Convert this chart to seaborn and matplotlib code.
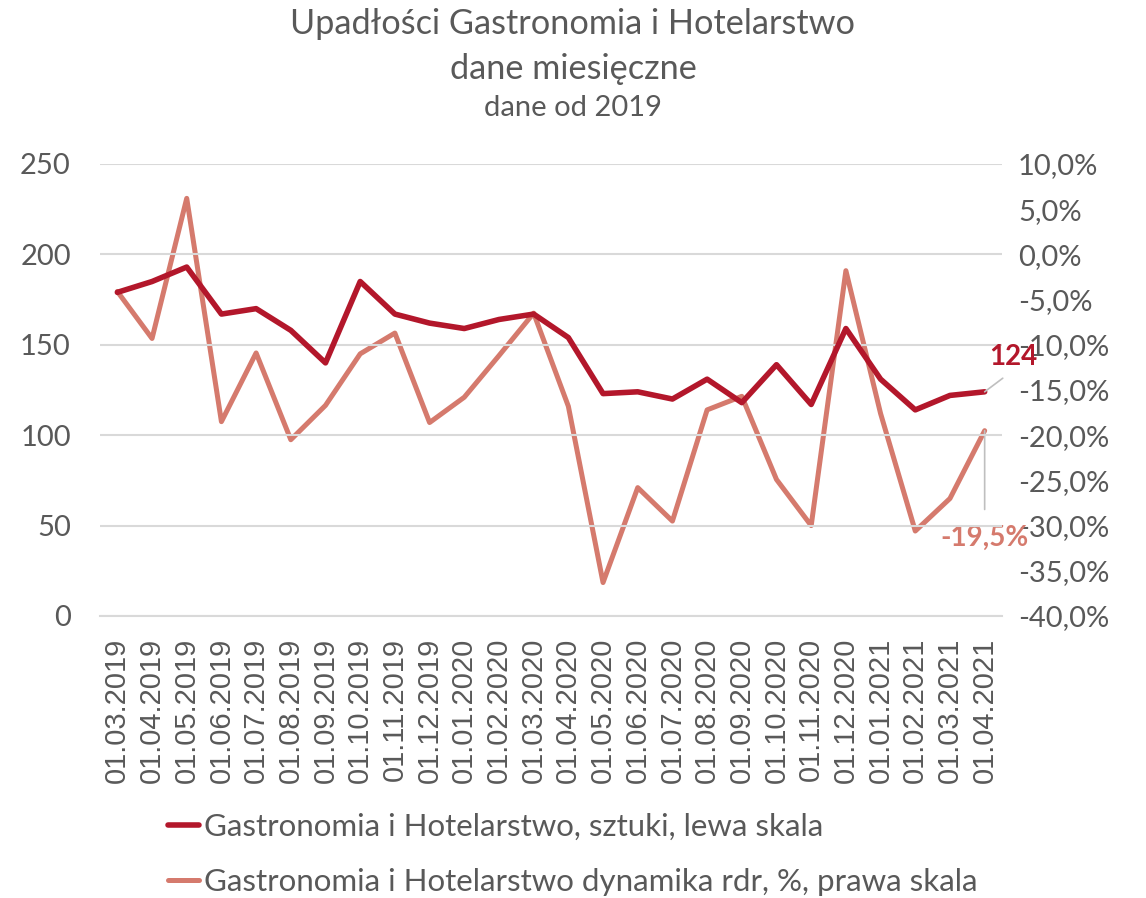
import numpy as np
import pandas as pd
import matplotlib
matplotlib.use("Agg")
import matplotlib.pyplot as plt
import seaborn as sns
from matplotlib.ticker import FuncFormatter

# Monthly data
months = ["01.03.2019", "01.04.2019", "01.05.2019", "01.06.2019", "01.07.2019",
          "01.08.2019", "01.09.2019", "01.10.2019", "01.11.2019", "01.12.2019",
          "01.01.2020", "01.02.2020", "01.03.2020", "01.04.2020", "01.05.2020",
          "01.06.2020", "01.07.2020", "01.08.2020", "01.09.2020", "01.10.2020",
          "01.11.2020", "01.12.2020", "01.01.2021", "01.02.2021", "01.03.2021",
          "01.04.2021"]
count_units = [179, 185, 193, 167, 170, 158, 140, 185, 167, 162,
               159, 164, 167, 154, 123, 124, 120, 131, 118, 139,
               117, 159, 131, 114, 122, 124]
yoy_pct = [-4.1, -9.3, 6.2, -18.5, -10.9, -20.5, -16.7, -11.0, -8.7, -18.6,
           -15.8, -11.2, -6.5, -16.8, -36.3, -25.8, -29.5, -17.2, -15.7, -24.9,
           -30.0, -1.8, -17.6, -30.6, -27.0, -19.5]
left_ticks = [0, 50, 100, 150, 200, 250]
right_ticks = [-40, -35, -30, -25, -20, -15, -10, -5, 0, 5, 10]

label_count = "Gastronomia i Hotelarstwo, sztuki, lewa skala"
label_yoy = "Gastronomia i Hotelarstwo dynamika rdr, %, prawa skala"

DARK = "#B3172B"
LIGHT = "#D57A6D"
TEXT = "#595959"
GRID = "#D9D9D9"

sns.set_theme(style="white")
plt.rcParams["font.family"] = ["Lato", "DejaVu Sans"]

df = pd.DataFrame({"pos": np.arange(len(months)), "month": months,
                   "count": count_units, "yoy": yoy_pct})

fig = plt.figure(figsize=(11.46, 8.98), dpi=100)
ax = fig.add_axes([100 / 1146, 1 - 616 / 898, 902 / 1146, 452 / 898])
ax2 = ax.twinx()

sns.lineplot(data=df, x="pos", y="count", ax=ax, color=DARK, linewidth=4.0,
             label=label_count, legend=False)
sns.lineplot(data=df, x="pos", y="yoy", ax=ax2, color=LIGHT, linewidth=3.6,
             label=label_yoy, legend=False)
ax.set_zorder(ax2.get_zorder() + 1)
ax.patch.set_visible(False)

ax.set_xlim(-0.5, len(months) - 0.5)
ax.set_ylim(0, 250)
ax2.set_ylim(-40, 10)
ax.set_yticks(left_ticks)
ax2.set_yticks(right_ticks)
ax2.yaxis.set_major_formatter(FuncFormatter(lambda v, p: f"{v:.1f}%".replace(".", ",")))

ax.grid(axis="y", color=GRID, linewidth=1.5)
ax.set_axisbelow(True)
for a in (ax, ax2):
    for s in a.spines.values():
        s.set_visible(False)
    a.set_xlabel("")
    a.set_ylabel("")
ax.spines["bottom"].set_visible(True)
ax.spines["bottom"].set_color(GRID)
ax.spines["bottom"].set_linewidth(1.5)

ax.set_xticks(df["pos"])
ax.set_xticklabels(months, rotation=90, fontsize=21, color=TEXT,
                   family=["Liberation Sans", "DejaVu Sans"])
ax.tick_params(axis="x", length=0, pad=15.5)
ax.tick_params(axis="y", length=0, labelsize=21, labelcolor=TEXT, pad=21)
ax2.tick_params(axis="y", length=0, labelsize=21, labelcolor=TEXT, pad=11.5)

# value callouts for the last month
last = len(months) - 1
ax.annotate(f"{count_units[-1]}", xy=(last, count_units[-1]),
            xytext=(last + 0.84, count_units[-1] + 19.3), textcoords="data",
            ha="center", va="center", fontsize=20, fontweight="bold", color=DARK,
            arrowprops=dict(arrowstyle="-", color="#BFBFBF", lw=1.2,
                            shrinkA=6, shrinkB=0, relpos=(0.5, 0.0)))
ax2.annotate(f"{yoy_pct[-1]:.1f}%".replace(".", ","), xy=(last, yoy_pct[-1]),
             xytext=(last, yoy_pct[-1] - 11.9), textcoords="data",
             ha="center", va="center", fontsize=20, fontweight="bold", color=LIGHT,
             arrowprops=dict(arrowstyle="-", color="#BFBFBF", lw=1.2,
                             shrinkA=9, shrinkB=0))

fig.text(0.5, 1 - 24 / 898, "Upadłości Gastronomia i Hotelarstwo", ha="center",
         va="center", fontsize=24.7, color=TEXT)
fig.text(0.5, 1 - 69 / 898, "dane miesięczne", ha="center", va="center",
         fontsize=24.7, color=TEXT)
fig.text(0.5, 1 - 108 / 898, "dane od 2019", ha="center", va="center",
         fontsize=21, color=TEXT)

handles = ax.get_lines()[:1] + ax2.get_lines()[:1]
leg = fig.legend(handles, [label_count, label_yoy], loc="upper left",
                 bbox_to_anchor=(168 / 1146, 1 - 813 / 898), frameon=False,
                 fontsize=22.5, handlelength=1.0, handletextpad=0.15,
                 labelspacing=0.85, labelcolor=TEXT, borderpad=0,
                 borderaxespad=0)

fig.savefig("out.png", dpi=100)
